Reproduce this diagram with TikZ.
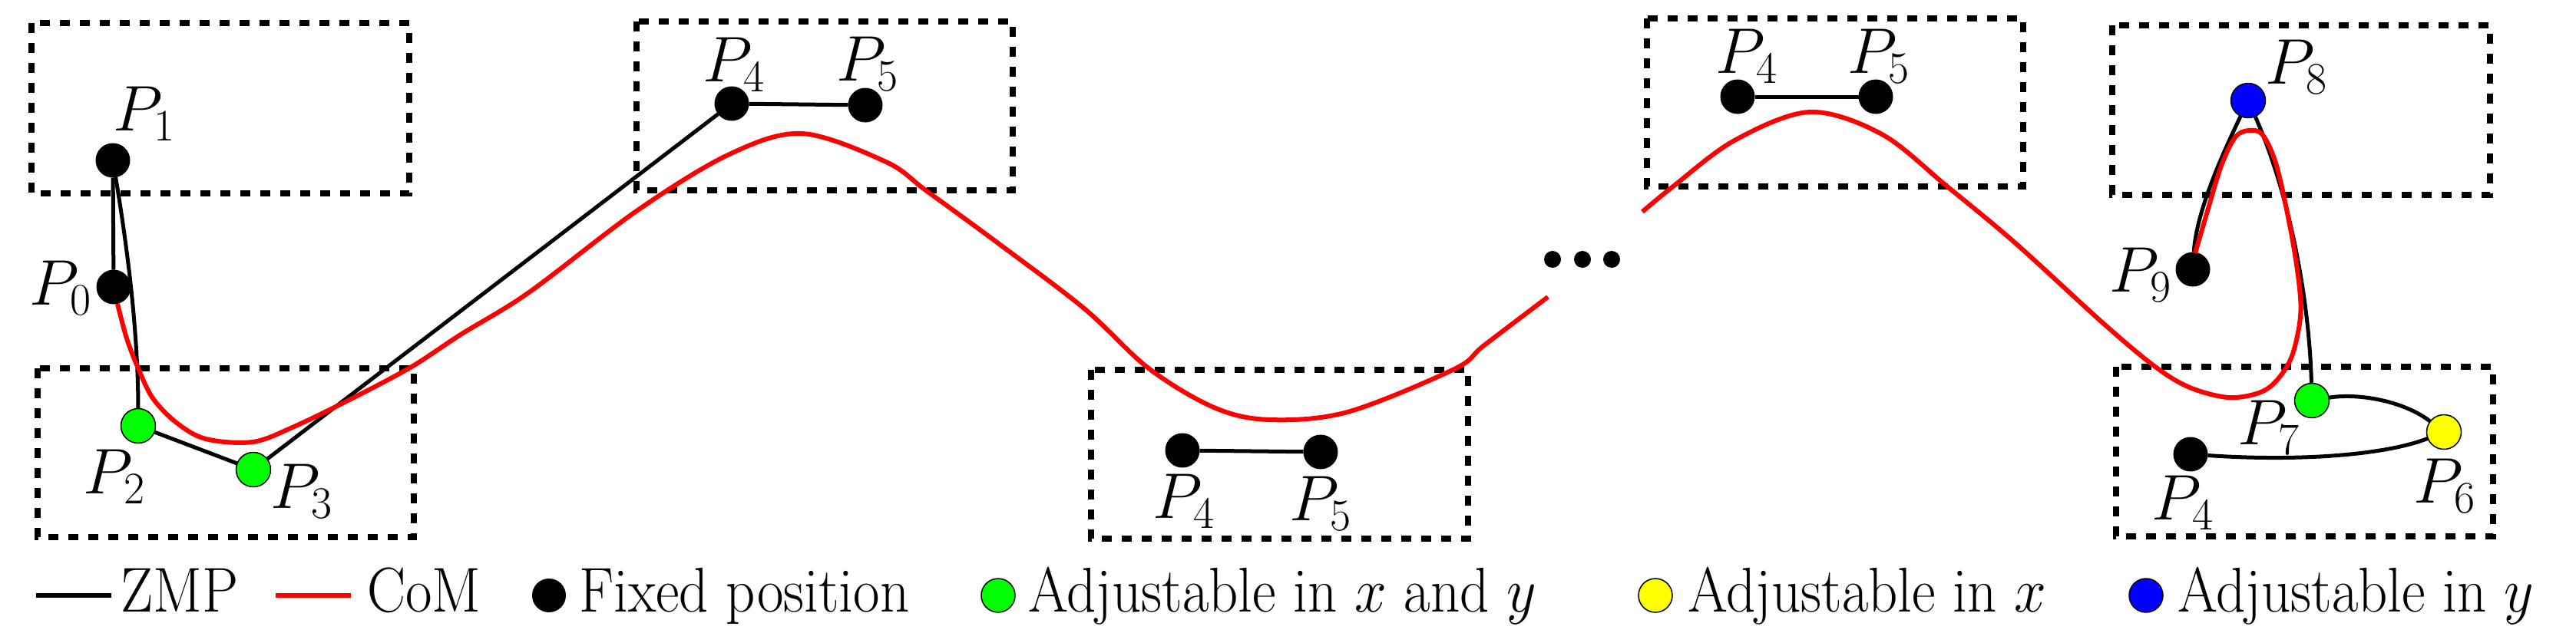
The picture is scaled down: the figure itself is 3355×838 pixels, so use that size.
\RequirePackage{fix-cm}
\documentclass[tikz,border=0pt]{standalone}
\definecolor{mygreen}{RGB}{0,255,0}
\definecolor{myyellow}{RGB}{255,255,0}
\definecolor{myblue}{RGB}{0,0,255}
\newcommand{\legtxt}[1]{\scalebox{1}[1.1]{#1}}
\tikzset{
  box/.style={draw, line width=7.5pt, dash pattern=on 13pt off 13pt},
  zmp/.style={line width=5pt, black},
  com/.style={line width=6pt, red},
  dotpt/.style={circle, minimum size=45pt, inner sep=0pt, outer sep=0pt},
  fixedpt/.style={dotpt, fill=black},
  xypt/.style={dotpt, fill=mygreen, draw=black, line width=1.5pt},
  xpt/.style={dotpt, fill=myyellow, draw=black, line width=1.5pt},
  ypt/.style={dotpt, fill=myblue, draw=black, line width=1.5pt},
  lab/.style={font=\fontsize{84}{96}\selectfont, inner sep=0pt},
  leg/.style={font=\fontsize{75}{90}\selectfont, inner sep=0pt, anchor=base west},
  ell/.style={circle, fill=black, minimum size=22pt, inner sep=0pt},
}
\begin{document}
\begin{tikzpicture}[x=1pt,y=-1pt]
\useasboundingbox (0,0) rectangle (3355,838);
% boxes
\draw[box] (41,30) rectangle (533,252);
\draw[box] (49,480) rectangle (539,700);
\draw[box] (829,28) rectangle (1319,248);
\draw[box] (1421,482) rectangle (1912,702);
\draw[box] (2145,24) rectangle (2635,243);
\draw[box] (2751,33) rectangle (3243,254);
\draw[box] (2756,478) rectangle (3247,699);

% points
\node[fixedpt] (P1) at (147,209) {};
\node[fixedpt] (P0) at (148,374) {};
\node[xypt] (P2) at (180,555) {};
\node[xypt] (P3) at (330,612) {};
\node[fixedpt] (a4) at (953,135) {};
\node[fixedpt] (a5) at (1127,137) {};
\node[fixedpt] (b4) at (1540,587) {};
\node[fixedpt] (b5) at (1720,589) {};
\node[fixedpt] (c4) at (2263,126) {};
\node[fixedpt] (c5) at (2443,126) {};
\node[ypt] (P8) at (2928,131) {};
\node[fixedpt] (P9) at (2856,351) {};
\node[xypt] (P7) at (3011,522) {};
\node[xpt] (P6) at (3183,563) {};
\node[fixedpt] (d4) at (2853,592) {};

% ellipsis
\node[ell] (e1) at (2022,338) {};
\node[ell] (e2) at (2061,338) {};
\node[ell] (e3) at (2099,338) {};

% ZMP
\begin{scope}[on background layer/.try]
\draw[zmp] (P0) -- (P1);
\draw[zmp] (P1) .. controls (162,300) and (180,420) .. (P2);
\draw[zmp] (P2) -- (P3);
\draw[zmp] (P3) -- (a4);
\draw[zmp] (a4) -- (a5);
\draw[zmp] (b4) -- (b5);
\draw[zmp] (c4) -- (c5);
\draw[zmp] (d4) .. controls (3000,602) and (3110,592) .. (P6);
\draw[zmp] (P6) .. controls (3130,522) and (3070,512) .. (P7);
\draw[zmp] (P7) .. controls (3008,400) and (2985,260) .. (P8);
\draw[zmp] (P8) .. controls (2890,210) and (2860,280) .. (P9);
% CoM
\draw[com] plot[smooth, tension=0.55] coordinates {(153,396) (165,441) (180,480) (199,519) (230,551) (268,572) (329,576) (383,556) (459,519) (536,478) (600,436) (689,381) (829,275) (948,202) (1044,174) (1154,211) (1207,249) (1300,317) (1412,402) (1496,480) (1581,531) (1653,547) (1755,537) (1894,481) (1933,450) (2016,387)};
\draw[com] plot[smooth, tension=0.55] coordinates {(2139,276) (2179,243) (2259,183) (2357,146) (2451,175) (2536,243) (2625,317) (2740,422) (2807,478) (2852,505) (2902,518) (2942,512) (2965,496) (2985,464) (2996,413) (2994,367) (2983,298) (2965,216) (2947,176) (2929,170) (2911,179) (2893,216) (2875,275) (2859,330)};
\end{scope}

% labels
\node[lab] (L1) at (188,148) {$P_1$};
\node[lab] (L0) at (79,375) {$P_0$};
\node[lab] (L2) at (149,621) {$P_2$};
\node[lab] (L3) at (393,640) {$P_3$};
\node[lab] (La4) at (956,84) {$P_4$};
\node[lab] (La5) at (1130,83) {$P_5$};
\node[lab] (Lb4) at (1542,653) {$P_4$};
\node[lab] (Lb5) at (1720,656) {$P_5$};
\node[lab] (Lc4) at (2275,73) {$P_4$};
\node[lab] (Lc5) at (2447,73) {$P_5$};
\node[lab] (L8) at (2991,87) {$P_8$};
\node[lab] (L9) at (2788,358) {$P_9$};
\node[lab] (L7) at (2955,557) {$P_7$};
\node[lab] (L6) at (3184,633) {$P_6$};
\node[lab] (Ld4) at (2843,655) {$P_4$};

% legend
\coordinate (z1) at (47,776);
\coordinate (z2) at (145,776);
\draw[zmp,line width=6pt] (z1) -- (z2);
\node[leg] (tz) at (157,797) {\legtxt{ZMP}};
\coordinate (c1) at (359,776);
\coordinate (c2) at (457,776);
\draw[com] (c1) -- (c2);
\node[leg] (tc) at (478,797) {\legtxt{CoM}};
\node[fixedpt, minimum size=44pt] (g1) at (715,776) {};
\node[leg] (tg1) at (754,797) {\legtxt{Fixed position}};
\node[xypt, minimum size=44pt] (g2) at (1300,776) {};
\node[leg] (tg2) at (1339,797) {\legtxt{Adjustable in $x$ and $y$}};
\node[xpt, minimum size=44pt] (g3) at (2156,776) {};
\node[leg] (tg3) at (2198,797) {\legtxt{Adjustable in $x$}};
\node[ypt, minimum size=44pt] (g4) at (2795,776) {};
\node[leg] (tg4) at (2836,797) {\legtxt{Adjustable in $y$}};
\end{tikzpicture}
\end{document}
